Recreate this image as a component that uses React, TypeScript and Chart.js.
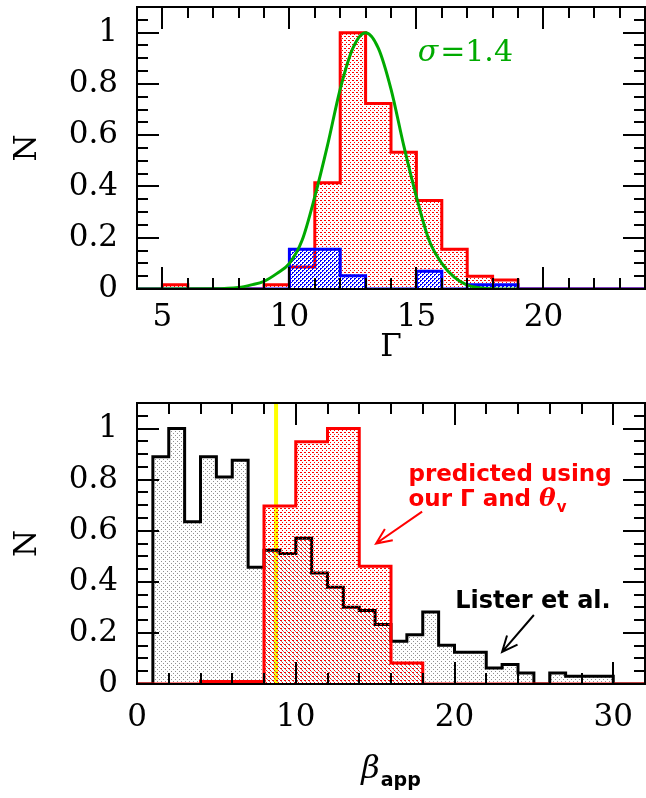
import { useEffect, useRef } from 'react';
import { Chart, registerables } from 'chart.js';

Chart.register(...registerables);

// ---------------- Top panel: distribution of Γ ----------------
const gammaEdges = [4, 5, 6, 7, 8, 9, 10, 11, 12, 13, 14, 15, 16, 17, 18, 19, 20, 21, 22, 23, 24];
const gammaAllSample = [0, 0.017, 0, 0, 0, 0.017, 0.086, 0.414, 1.0, 0.724, 0.533, 0.345, 0.155, 0.05, 0.035, 0, 0, 0, 0, 0];
const gammaSubSample = [0, 0, 0, 0, 0, 0, 0.155, 0.155, 0.052, 0, 0, 0.069, 0, 0.017, 0.017, 0, 0, 0, 0, 0];
const gaussFitX = [4, 7, 8, 8.5, 9, 9.5, 10, 10.5, 11, 11.5, 12, 12.5, 13, 13.5, 14, 14.5, 15, 15.5, 16, 16.5, 17, 17.5, 18, 19];
const gaussFitY = [0, 0.001, 0.006, 0.016, 0.03, 0.06, 0.1, 0.19, 0.36, 0.56, 0.78, 0.94, 1.0, 0.94, 0.78, 0.56, 0.36, 0.19, 0.1, 0.045, 0.015, 0.005, 0.001, 0];
const gammaTickLabels = [5, 10, 15, 20];
const nTickLabels = [0, 0.2, 0.4, 0.6, 0.8, 1];
const sigmaLabel = '1.4';

// ---------------- Bottom panel: distribution of β_app ----------------
const betaEdgesLister = [0, 1, 2, 3, 4, 5, 6, 7, 8, 9, 10, 11, 12, 13, 14, 15, 16, 17, 18, 19, 20, 21, 22, 23, 24, 25, 26, 27, 28, 29, 30, 31, 32];
const listerValues = [0, 0.89, 1.0, 0.635, 0.89, 0.81, 0.876, 0.457, 0.524, 0.511, 0.571, 0.435, 0.379, 0.3, 0.288, 0.233, 0.167, 0.193, 0.282, 0.152, 0.124, 0.124, 0.063, 0.076, 0.043, 0, 0.043, 0.03, 0.03, 0.03, 0, 0];
const betaEdgesPredicted = [0, 2, 4, 6, 8, 10, 12, 14, 16, 18, 20, 22, 24, 26, 28, 30, 32];
const predictedValues = [0, 0, 0.01, 0.01, 0.697, 0.948, 1.0, 0.461, 0.082, 0, 0, 0, 0, 0, 0, 0];
const betaTickLabels = [0, 10, 20, 30];
const betaMarker = 8.76;

const SERIF = '"DejaVu Serif", serif';
const SANS = '"DejaVu Sans", sans-serif';
const TICK_FONT = 31;

const stepPoints = (edges: number[], vals: number[]) =>
  edges.map((e, i) => ({ x: e, y: vals[Math.min(i, vals.length - 1)] }));

function makePattern(ctx: CanvasRenderingContext2D, color: string, size: number, cells: number[][]) {
  const c = document.createElement('canvas');
  c.width = size;
  c.height = size;
  const g = c.getContext('2d')!;
  g.fillStyle = color;
  cells.forEach(([x, y]) => g.fillRect(x, y, 1, 1));
  return ctx.createPattern(c, 'repeat')!;
}

// frame + inward major/minor ticks on all four sides, positioned by the chart's scales
const frameTicks = {
  id: 'frameTicks',
  afterDraw(chart: any, _a: any, opts: any) {
    const { ctx, chartArea, scales } = chart;
    const { left, right, top, bottom } = chartArea;
    const xs = scales.x;
    const ys = scales.y;
    ctx.save();
    ctx.strokeStyle = '#000';
    ctx.lineWidth = 2;
    const seg = (x1: number, y1: number, x2: number, y2: number) => {
      ctx.beginPath();
      ctx.moveTo(x1, y1);
      ctx.lineTo(x2, y2);
      ctx.stroke();
    };
    const majX = xs.ticks.map((t: any) => t.value);
    const majY = ys.ticks.map((t: any) => t.value);
    const isMaj = (arr: number[], v: number) => arr.some((m) => Math.abs(m - v) < 1e-6);
    for (let k = Math.ceil(xs.min / opts.xMinor - 1e-9); k * opts.xMinor <= xs.max + 1e-9; k++) {
      const v = k * opts.xMinor;
      const px = Math.round(xs.getPixelForValue(v));
      const len = isMaj(majX, v) ? opts.major : opts.minor;
      seg(px, bottom, px, bottom - len);
      seg(px, top, px, top + len);
    }
    for (let k = Math.ceil(ys.min / opts.yMinor - 1e-9); k * opts.yMinor <= ys.max + 1e-9; k++) {
      const v = k * opts.yMinor;
      const py = Math.round(ys.getPixelForValue(v));
      const len = isMaj(majY, v) ? opts.major : opts.minor;
      seg(left, py, left + len, py);
      seg(right, py, right - len, py);
    }
    ctx.strokeRect(left, top, right - left, bottom - top);
    ctx.restore();
  },
};

function arrow(ctx: CanvasRenderingContext2D, x1: number, y1: number, x2: number, y2: number, head: number) {
  ctx.beginPath();
  ctx.moveTo(x1, y1);
  ctx.lineTo(x2, y2);
  const a = Math.atan2(y2 - y1, x2 - x1);
  const spread = 0.42;
  ctx.moveTo(x2 - head * Math.cos(a - spread), y2 - head * Math.sin(a - spread));
  ctx.lineTo(x2, y2);
  ctx.lineTo(x2 - head * Math.cos(a + spread), y2 - head * Math.sin(a + spread));
  ctx.stroke();
}

const topAnnot = {
  id: 'topAnnot',
  afterDraw(chart: any) {
    const { ctx, scales } = chart;
    const x = scales.x;
    const y = scales.y;
    ctx.save();
    ctx.fillStyle = '#00aa00';
    ctx.textBaseline = 'alphabetic';
    ctx.textAlign = 'left';
    let px = x.getPixelForValue(15.05);
    const py = y.getPixelForValue(0.89);
    ctx.font = `italic 30px ${SERIF}`;
    ctx.fillText('σ', px, py);
    px += ctx.measureText('σ').width + 2;
    ctx.font = `30px ${SERIF}`;
    ctx.fillText('=' + sigmaLabel, px, py);
    ctx.restore();
  },
};

const bottomAnnot = {
  id: 'bottomAnnot',
  afterDraw(chart: any) {
    const { ctx, scales, chartArea } = chart;
    const x = scales.x;
    const y = scales.y;
    ctx.save();
    ctx.textBaseline = 'alphabetic';
    ctx.textAlign = 'left';
    // red label
    ctx.fillStyle = '#ff0000';
    ctx.strokeStyle = '#ff0000';
    ctx.font = `bold 23px ${SANS}`;
    const lx = x.getPixelForValue(17.1);
    ctx.fillText('predicted using', lx, y.getPixelForValue(0.793));
    const l2y = y.getPixelForValue(0.695);
    const part = 'our Γ and ';
    ctx.fillText(part, lx, l2y);
    let px = lx + ctx.measureText(part).width;
    ctx.font = `italic bold 25px ${SERIF}`;
    ctx.fillText('θ', px, l2y);
    px += ctx.measureText('θ').width + 1;
    ctx.font = `bold 15px ${SANS}`;
    ctx.fillText('v', px, l2y + 6);
    ctx.lineWidth = 2;
    arrow(ctx, x.getPixelForValue(17.96), y.getPixelForValue(0.675), x.getPixelForValue(15.06), y.getPixelForValue(0.55), 17);
    // black label
    ctx.fillStyle = '#000';
    ctx.strokeStyle = '#000';
    ctx.font = `bold 24px ${SANS}`;
    ctx.fillText('Lister et al.', x.getPixelForValue(20.05), y.getPixelForValue(0.298));
    arrow(ctx, x.getPixelForValue(25.0), y.getPixelForValue(0.27), x.getPixelForValue(23.0), y.getPixelForValue(0.126), 17);
    // x-axis title β_app
    const cx = (chartArea.left + chartArea.right) / 2;
    const by = chart.height - 20;
    ctx.font = `italic 32px ${SERIF}`;
    const wb = ctx.measureText('β').width;
    ctx.font = `bold 19px ${SANS}`;
    const wa = ctx.measureText('app').width;
    const startX = cx - (wb + wa + 1) / 2;
    ctx.font = `italic 32px ${SERIF}`;
    ctx.fillText('β', startX, by);
    ctx.font = `bold 19px ${SANS}`;
    ctx.fillText('app', startX + wb + 1, by + 8);
    ctx.restore();
  },
};

function yAxis(padTitle: number) {
  return {
    type: 'linear' as const,
    min: 0,
    max: 1.1,
    grid: { display: false, drawTicks: false },
    border: { display: false },
    afterBuildTicks: (s: any) => {
      s.ticks = nTickLabels.map((v) => ({ value: v }));
    },
    afterFit: (s: any) => {
      s.width = 137;
      s.paddingTop = 0;
      s.paddingBottom = 0;
      s.paddingLeft = 0;
      s.paddingRight = 0;
    },
    ticks: {
      padding: 19,
      color: '#000',
      font: { size: TICK_FONT, family: SERIF },
      callback: (v: any) => String(Math.round(Number(v) * 10) / 10),
    },
    title: {
      display: true,
      text: 'N',
      color: '#000',
      font: { size: TICK_FONT, family: SERIF },
      padding: { top: padTitle, bottom: 0 },
    },
  };
}

function xFit(h: number) {
  return (s: any) => {
    s.height = h;
    s.paddingTop = 0;
    s.paddingBottom = 0;
    s.paddingLeft = 0;
    s.paddingRight = 0;
  };
}

function TopChart() {
  const ref = useRef<HTMLCanvasElement>(null);
  useEffect(() => {
    const canvas = ref.current!;
    const ctx = canvas.getContext('2d')!;
    const redPat = makePattern(ctx, '#ff0000', 4, [[0, 0], [1, 0], [2, 2]]);
    const bluePat = makePattern(ctx, '#0000ff', 4, [[0, 0], [1, 0], [0, 1], [2, 2], [3, 2], [2, 3]]);
    const chart = new Chart(canvas, {
      type: 'line',
      data: {
        datasets: [
          {
            label: 'Gaussian σ=1.4',
            data: gaussFitX.map((xv, i) => ({ x: xv, y: gaussFitY[i] })),
            borderColor: '#00aa00',
            borderWidth: 3,
            pointRadius: 0,
            fill: false,
            cubicInterpolationMode: 'monotone',
          },
          {
            label: 'subset',
            data: stepPoints(gammaEdges, gammaSubSample),
            borderColor: '#0000ff',
            backgroundColor: bluePat,
            borderWidth: 3,
            pointRadius: 0,
            stepped: 'before',
            fill: 'origin',
          },
          {
            label: 'all',
            data: stepPoints(gammaEdges, gammaAllSample),
            borderColor: '#ff0000',
            backgroundColor: redPat,
            borderWidth: 3,
            pointRadius: 0,
            stepped: 'before',
            fill: 'origin',
          },
        ],
      },
      options: {
        animation: false,
        responsive: false,
        maintainAspectRatio: false,
        layout: { padding: { top: 7, right: 1, left: 0, bottom: 0 } },
        plugins: {
          legend: { display: false },
          tooltip: { enabled: false },
          frameTicks: { xMinor: 1, yMinor: 0.05, major: 22, minor: 11 },
        } as any,
        scales: {
          x: {
            type: 'linear',
            min: 4,
            max: 24,
            grid: { display: false, drawTicks: false },
            border: { display: false },
            afterBuildTicks: (s: any) => {
              s.ticks = gammaTickLabels.map((v) => ({ value: v }));
            },
            afterFit: xFit(91),
            ticks: {
              padding: 10,
              color: '#000',
              maxRotation: 0,
              autoSkip: false,
              font: { size: TICK_FONT, family: SERIF },
              callback: (v: any) => String(v),
            },
            title: {
              display: true,
              text: 'Γ',
              color: '#000',
              font: { size: TICK_FONT, family: SERIF },
              padding: { top: 0, bottom: 13 },
            },
          },
          y: yAxis(9),
        } as any,
      },
      plugins: [frameTicks, topAnnot],
    });
    return () => chart.destroy();
  }, []);
  return <canvas ref={ref} width={646} height={380} style={{ display: 'block' }} />;
}

function BottomChart() {
  const ref = useRef<HTMLCanvasElement>(null);
  useEffect(() => {
    const canvas = ref.current!;
    const ctx = canvas.getContext('2d')!;
    const redPat = makePattern(ctx, '#ff0000', 4, [[0, 0], [1, 0], [2, 2]]);
    const grayPat = makePattern(ctx, '#909090', 4, [[1, 1], [3, 3]]);
    const chart = new Chart(canvas, {
      type: 'line',
      data: {
        datasets: [
          {
            label: 'predicted using our Γ and θv',
            data: stepPoints(betaEdgesPredicted, predictedValues),
            borderColor: '#ff0000',
            backgroundColor: redPat,
            borderWidth: 3,
            pointRadius: 0,
            stepped: 'before',
            fill: 'origin',
          },
          {
            label: 'Lister et al.',
            data: stepPoints(betaEdgesLister, listerValues),
            borderColor: '#000000',
            backgroundColor: grayPat,
            borderWidth: 3,
            pointRadius: 0,
            stepped: 'before',
            fill: 'origin',
          },
          {
            label: 'marker',
            data: [
              { x: betaMarker, y: 0 },
              { x: betaMarker, y: 1.1 },
            ],
            borderColor: '#ffff00',
            borderWidth: 4,
            pointRadius: 0,
            fill: false,
          },
        ],
      },
      options: {
        animation: false,
        responsive: false,
        maintainAspectRatio: false,
        layout: { padding: { top: 23, right: 1, left: 0, bottom: 0 } },
        plugins: {
          legend: { display: false },
          tooltip: { enabled: false },
          frameTicks: { xMinor: 2, yMinor: 0.05, major: 22, minor: 11 },
        } as any,
        scales: {
          x: {
            type: 'linear',
            min: 0,
            max: 32,
            grid: { display: false, drawTicks: false },
            border: { display: false },
            afterBuildTicks: (s: any) => {
              s.ticks = betaTickLabels.map((v) => ({ value: v }));
            },
            afterFit: xFit(114),
            ticks: {
              padding: 15,
              color: '#000',
              maxRotation: 0,
              autoSkip: false,
              font: { size: TICK_FONT, family: SERIF },
              callback: (v: any) => String(v),
            },
            title: { display: false },
          },
          y: yAxis(9),
        } as any,
      },
      plugins: [frameTicks, bottomAnnot],
    });
    return () => chart.destroy();
  }, []);
  return <canvas ref={ref} width={646} height={418} style={{ display: 'block' }} />;
}

export default function App() {
  return (
    <div style={{ position: 'absolute', left: 0, top: 0, width: 646, height: 798, background: '#fff' }}>
      <TopChart />
      <BottomChart />
    </div>
  );
}
